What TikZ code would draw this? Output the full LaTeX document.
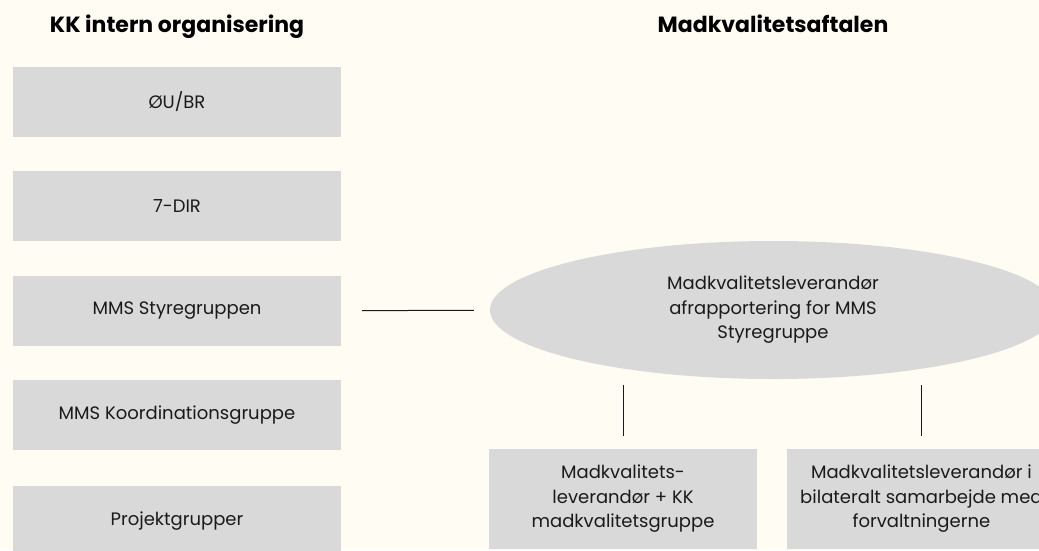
\documentclass[tikz,border=0pt]{standalone}
\usepackage{fontspec}
\setmainfont{Poppins}
\usetikzlibrary{shapes.geometric, positioning}
\definecolor{paper}{HTML}{FFFCF4}
\definecolor{boxgray}{HTML}{D9D9D9}
\definecolor{ink}{HTML}{1A1A1A}
\tikzstyle{block} = [rectangle, fill=boxgray, text=ink, text centered, minimum width=328pt, minimum height=70pt, inner sep=0pt, font=\fontsize{18}{24.5}\selectfont]
\tikzstyle{partbox} = [block, minimum width=268pt, minimum height=100pt, align=center]
\tikzstyle{oval} = [ellipse, fill=boxgray, text=ink, minimum width=566pt, minimum height=138pt, inner sep=0pt, align=center, font=\fontsize{18}{24.5}\selectfont]
\tikzstyle{heading} = [text=black, anchor=base, font=\fontsize{22}{26}\selectfont\bfseries]
\tikzstyle{link} = [line width=1pt, ink]

\begin{document}
\begin{tikzpicture}[node distance=34pt and 30pt]

	% Canvas
	\fill[paper] (0,0) rectangle (1039pt,-550pt);
	\useasboundingbox (0,0) rectangle (1039pt,-550pt);
	\clip (0,0) rectangle (1039pt,-550pt);

	% Headings
	\node (kk_title) [heading] at (177pt,-32pt) {KK intern organisering};
	\node (mk_title) [heading] at (773pt,-32pt) {Madkvalitetsaftalen};

	% KK internal organisation
	\node (oubr) [block] at (177pt,-102pt) {ØU/BR};
	\node (dir7) [block, below=of oubr] {7-DIR};
	\node (mms_sg) [block, below=of dir7] {MMS Styregruppen};
	\node (mms_kg) [block, below=of mms_sg] {MMS Koordinationsgruppe};
	\node (proj) [block, below=35pt of mms_kg] {Projektgrupper};

	% Madkvalitetsaftalen
	\node (report) [oval] at (773pt,-310pt) {Madkvalitetsleverandør\\afrapportering for MMS\\Styregruppe};
	\node (kk_group) [partbox] at (623pt,-499pt) {Madkvalitets-\\leverandør + KK\\madkvalitetsgruppe};
	\node (bilateral) [partbox, right=30pt of kk_group] {Madkvalitetsleverandør i\\bilateralt samarbejde med\\forvaltningerne};

	% Lines
	\draw[link, shorten <=21pt, shorten >=16pt] (mms_sg) -- (report);
	\draw[link, shorten <=6pt, shorten >=13pt] (kk_group.north |- report.south) -- (kk_group.north);
	\draw[link, shorten <=6pt, shorten >=13pt] (bilateral.north |- report.south) -- (bilateral.north);

\end{tikzpicture}
\end{document}
